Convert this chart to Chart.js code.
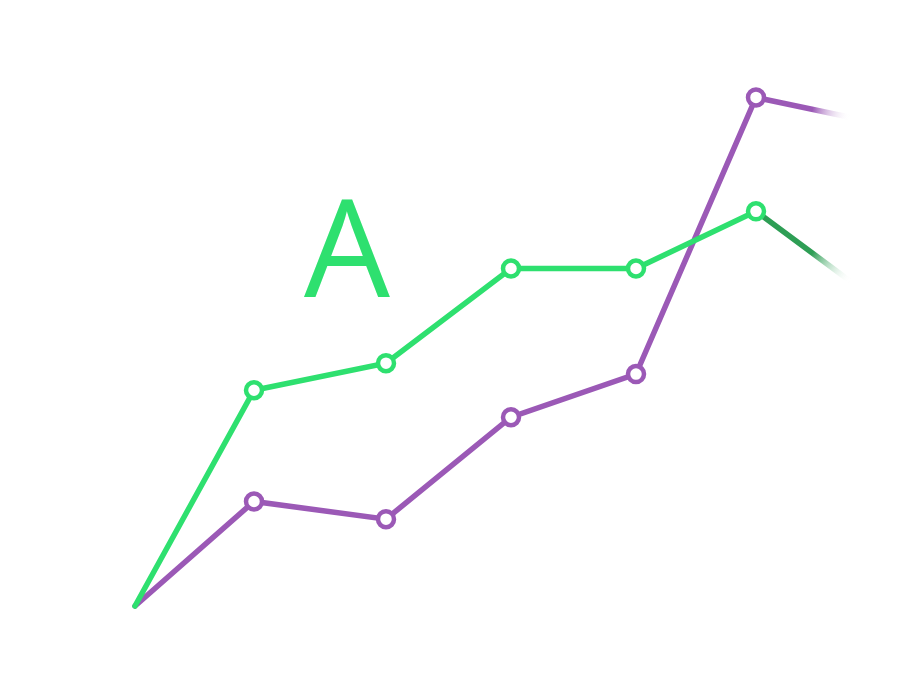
<!DOCTYPE html>
<html>
<head>
<meta charset="utf-8">
<script src="https://cdn.jsdelivr.net/npm/chart.js@4"></script>
<style>
  html, body { margin: 0; padding: 0; background: #fff; }
  #wrap { width: 920px; height: 690px; }
</style>
</head>
<body>
<div id="wrap"><canvas id="chart"></canvas></div>
<script>
// data
const xValues = [0, 119, 251, 376, 501, 621, 715];
const greenValues = [0, 41.5, 46.7, 64.9, 64.9, 75.9, 62.5];
const purpleValues = [0, 20.1, 16.7, 36.3, 44.6, 97.8, 94.0];
const labelText = 'A';
const labelPos = { x: 212, y: 59.4 };

const GREEN = '#2ee06f';
const GREEN_DARK = '#2e9e55';
const PURPLE = '#9b59b6';

function toPoints(values) {
    return values.map(function (v, i) { return { x: xValues[i], y: v }; });
}

function fadeSegment(color) {
    return function (ctx) {
        if (ctx.p1DataIndex !== xValues.length - 1) return undefined;
        const c = ctx.chart.ctx;
        const g = c.createLinearGradient(ctx.p0.x, ctx.p0.y, ctx.p1.x, ctx.p1.y);
        g.addColorStop(0, color);
        g.addColorStop(0.6, color);
        g.addColorStop(1, 'rgba(255,255,255,0)');
        return g;
    };
}

function pointRadius(ctx) {
    const i = ctx.dataIndex;
    return (i === 0 || i === xValues.length - 1) ? 0 : 8;
}

const textPlugin = {
    id: 'bigLetter',
    afterDatasetsDraw: function (chart) {
        const c = chart.ctx;
        const x = chart.scales.x.getPixelForValue(labelPos.x);
        const y = chart.scales.y.getPixelForValue(labelPos.y);
        c.save();
        c.fillStyle = GREEN;
        c.font = '500 136px "Open Sans"';
        c.textAlign = 'center';
        c.textBaseline = 'alphabetic';
        c.fillText(labelText, x, y);
        c.restore();
    }
};

new Chart(document.getElementById('chart'), {
    type: 'line',
    data: {
        datasets: [
            {
                data: toPoints(greenValues),
                borderColor: GREEN,
                borderWidth: 5.5,
                borderCapStyle: 'round',
                pointRadius: pointRadius,
                pointHoverRadius: 0,
                pointBorderWidth: 4.5,
                pointBorderColor: GREEN,
                pointBackgroundColor: '#fff',
                segment: { borderColor: fadeSegment(GREEN_DARK) },
                clip: false
            },
            {
                data: toPoints(purpleValues),
                borderColor: PURPLE,
                borderWidth: 5.5,
                borderCapStyle: 'round',
                pointRadius: pointRadius,
                pointHoverRadius: 0,
                pointBorderWidth: 4.5,
                pointBorderColor: PURPLE,
                pointBackgroundColor: '#fff',
                segment: { borderColor: fadeSegment(PURPLE) },
                clip: false
            }
        ]
    },
    options: {
        responsive: true,
        maintainAspectRatio: false,
        animation: false,
        layout: { padding: { left: 135, right: 70, top: 86, bottom: 84 } },
        plugins: { legend: { display: false }, tooltip: { enabled: false } },
        scales: {
            x: { type: 'linear', min: 0, max: 715, display: false },
            y: { min: 0, max: 100, display: false }
        }
    },
    plugins: [textPlugin]
});
</script>
</body>
</html>
